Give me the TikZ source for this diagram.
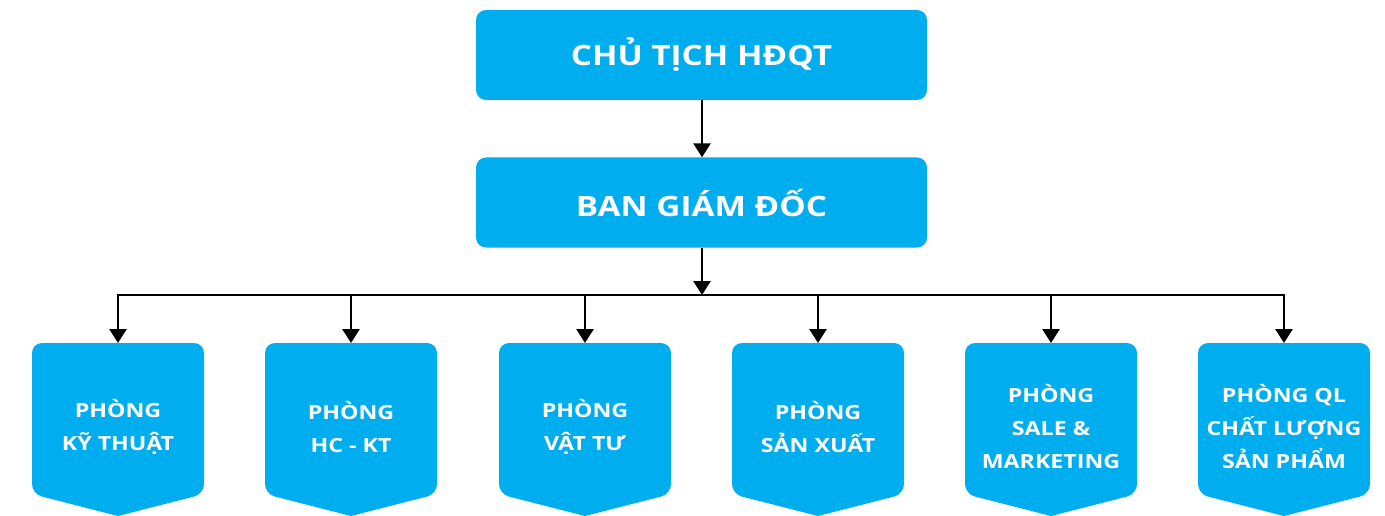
\documentclass[tikz,border=0pt]{standalone}
\usepackage{fontspec}
\setmainfont[FakeStretch=1.19]{Open Sans}
\usetikzlibrary{arrows.meta}
\definecolor{boxblue}{RGB}{0,174,239}
\tikzset{
  topbox/.style={fill=boxblue, rounded corners=10pt, minimum width=451pt, minimum height=90pt, inner sep=0pt, text=white, font=\bfseries\fontsize{28}{32}\selectfont},
  dept/.style={text=white, align=center, font=\bfseries\fontsize{19.5}{33}\selectfont},
  conn/.style={line width=2.8pt, draw=black},
  arr/.style={conn, -{Triangle[length=14pt,width=17pt]}}
}
\newcommand{\deptshape}[2]{%
  \fill[boxblue] (#1-86,428) [rounded corners=10pt] -- (#1-86,343) -- (#1+86,343) -- (#1+86,494) [sharp corners] -- (#1,516) [rounded corners=10pt] -- (#1-86,494) [sharp corners] -- (#1-86,428);
}
\begin{document}
\begin{tikzpicture}[x=1pt,y=-1pt]
\useasboundingbox (0,0) rectangle (1385,516);
\node[topbox] (chu) at (701.5,55) {CHỦ TỊCH HĐQT};
\node[topbox] (ban) at (701.5,202.5) {BAN GIÁM ĐỐC};
\coordinate (hub) at (702,295);
\foreach \x/\n in {118/d1,351/d2,585/d3,818/d4,1051/d5,1284/d6}{
  \deptshape{\x}{\n}
  \coordinate (\n) at (\x,343);
  \coordinate (\n h) at (\x,295);
}
\node[dept] (t1) at (118,427) {PHÒNG\\KỸ THUẬT};
\node[dept] (t2) at (351,427) {PHÒNG\\HC - KT};
\node[dept] (t3) at (585,427) {PHÒNG\\VẬT TƯ};
\node[dept] (t4) at (818,427) {PHÒNG\\SẢN XUẤT};
\node[dept] (t5) at (1051,427) {PHÒNG\\SALE \&\\MARKETING};
\node[dept] (t6) at (1284,427) {PHÒNG QL\\CHẤT LƯỢNG\\SẢN PHẨM};
\draw[arr] (chu.south -| hub) -- (ban.north -| hub);
\draw[arr] (ban.south -| hub) -- (hub);
\draw[conn] ([xshift=-1.4pt]d1h) -- ([xshift=1.4pt]d6h);
\foreach \n in {d1,d2,d3,d4,d5,d6}{
  \draw[arr] (\n h) -- (\n);
}
\end{tikzpicture}
\end{document}
